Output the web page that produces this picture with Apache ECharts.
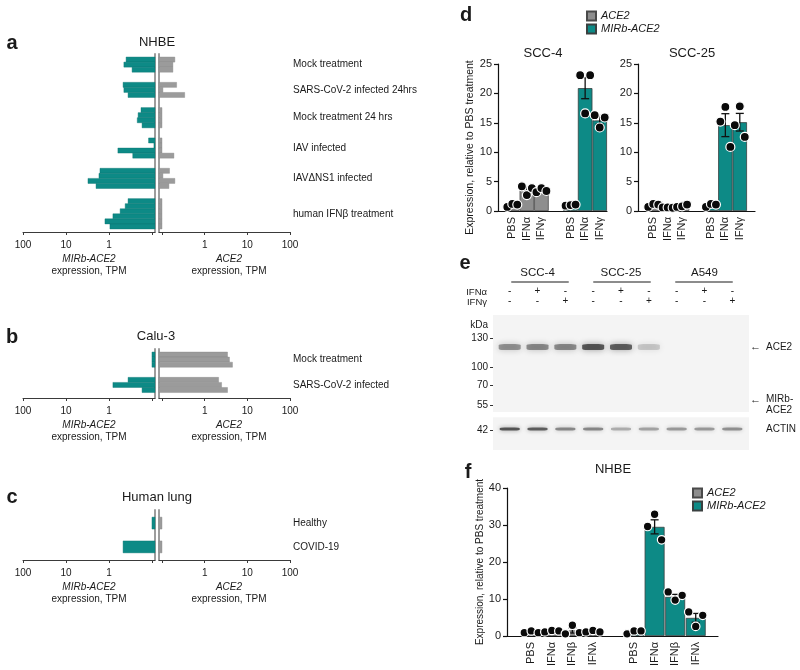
<!DOCTYPE html>
<html><head><meta charset="utf-8">
<script src="https://cdn.jsdelivr.net/npm/echarts@6/dist/echarts.min.js"></script>
<style>html,body{margin:0;padding:0;background:#fff}#c{width:800px;height:670px}</style>
</head><body><div id="c"></div>
<script>
// ---------------- DATA ----------------
// Panel a: NHBE, TPM per replicate (left: MIRb-ACE2, right: ACE2)
const nhbeLabels = ['Mock treatment','SARS-CoV-2 infected 24hrs','Mock treatment 24 hrs','IAV infected','IAVΔNS1 infected','human IFNβ treatment'];
const nhbeMirb = [[0.40,0.45,0.29],[0.47,0.45,0.36],[0.18,0.21,0.22,0.17],[0.12,0.09,0.62,0.28],[1.62,1.71,3.08,2.0],[0.36,0.42,0.55,0.81,1.24,0.95]];
const nhbeAce2 = [[0.20,0.18,0.18],[0.22,0.105,0.34],[0.1,0.1,0.1,0.1],[0.1,0.1,0.1,0.19],[0.15,0.105,0.20,0.145],[0.1,0.1,0.1,0.1,0.1,0.1]];
// Panel b: Calu-3
const caluLabels = ['Mock treatment','SARS-CoV-2 infected'];
const caluMirb = [[0.1,0.1,0.1],[0.36,0.81,0.17]];
const caluAce2 = [[3.43,3.81,4.48],[2.12,2.49,3.43]];
// Panel c: Human lung
const lungLabels = ['Healthy','COVID-19'];
const lungMirb = [[0.1],[0.47]];
const lungAce2 = [[0.1],[0.1]];
// Panel d
const dTreatments = ['PBS','IFNα','IFNγ'];
const scc4Ace2Mean = [1.0,3.6,3.4];
const scc4Ace2Sem  = [0.15,0.45,0.2];
const scc4Ace2Reps = [[0.7,1.2,1.1],[4.2,2.7,3.9],[3.2,3.9,3.4]];
const scc4MirbMean = [1.0,20.9,15.4];
const scc4MirbSem  = [0.06,1.8,0.6];
const scc4MirbReps = [[0.9,1.0,1.1],[23.1,16.6,23.1],[16.3,14.2,15.9]];
const scc25Ace2Mean = [0.95,0.6,0.85];
const scc25Ace2Sem  = [0.12,0.03,0.12];
const scc25Ace2Reps = [[0.7,1.2,1.1],[0.6,0.6,0.55],[0.7,0.8,1.1]];
const scc25MirbMean = [1.0,14.6,15.1];
const scc25MirbSem  = [0.15,1.95,1.5];
const scc25MirbReps = [[0.7,1.2,1.1],[15.2,17.7,10.9],[14.6,17.8,12.6]];
// Panel e: western blot
const cellLines = ['SCC-4','SCC-25','A549'];
const ifnAlpha = ['-','+','-','-','+','-','-','+','-'];
const ifnGamma = ['-','-','+','-','-','+','-','-','+'];
const markerKDa = [130,100,70,55,42];
const markerMigration = [0,1.0,1.62,2.31,3.18];
const ace2Migration = 0.31;
const ace2Intensity = [0.5,0.55,0.55,0.85,0.8,0.22,0,0,0];
const actinMigration = 3.14;
const actinIntensity = [0.85,0.8,0.55,0.55,0.35,0.4,0.45,0.45,0.5];
const membranes = [[-0.79,2.55],[2.73,3.86]];
// Panel f: NHBE
const fTreatments = ['PBS','IFNα','IFNβ','IFNλ'];
const nhbeFAce2Mean = [1.05,1.3,1.5,1.2];
const nhbeFAce2Sem  = [0.15,0.12,0.7,0.13];
const nhbeFAce2Reps = [[0.9,1.36,0.9],[1.1,1.5,1.36],[0.6,2.9,0.9],[1.1,1.5,1.1]];
const nhbeFMirbMean = [1.1,29.5,10.6,4.9];
const nhbeFMirbSem  = [0.25,1.9,0.65,1.2];
const nhbeFMirbReps = [[0.6,1.36,1.36],[29.6,32.9,26.0],[11.9,9.7,11.0],[6.5,2.6,5.6]];

// ---------------- STYLE ----------------
const FONT = '"Liberation Sans", Arial, Helvetica, sans-serif';
const INK = '#1a1a1a';
const TEAL = '#0d8a86';
const GRAY_A = '#9b9b9b';
const GRAY = '#8e8e8e';
const BASE = 0.085;

const option = {animation:false, backgroundColor:'#fff', textStyle:{fontFamily:FONT},
  grid:[], xAxis:[], yAxis:[], series:[], legend:[], graphic:[]};
function addGrid(g){ option.grid.push(Object.assign({outerBoundsMode:'none', containLabel:false}, g)); return option.grid.length-1; }
function addX(a){ option.xAxis.push(a); return option.xAxis.length-1; }
function addY(a){ option.yAxis.push(a); return option.yAxis.length-1; }

// ---------- mirrored horizontal bar panels (a, b, c) ----------
function buildRows(groups, gap){
  let r = 0; const rows = [], centers = [];
  groups.forEach(reps => { centers.push(r + reps.length/2); reps.forEach(v => { rows.push([r, v]); r++; }); r += gap; });
  return {rows, centers};
}
function logAxis(gi, inverse, name, padLeft){
  return {gridIndex:gi, type:'log', logBase:10, inverse, min:BASE, max:100,
    axisLine:{show:true, onZero:false, lineStyle:{color:'#3a3a3a', width:1}},
    axisTick:{show:true, customValues:[0.1,1,10,100], length:3, lineStyle:{color:'#3a3a3a'}},
    axisLabel:{customValues:[1,10,100], formatter:v => String(Math.round(v)), color:INK, fontSize:10, margin:8},
    splitLine:{show:false}, minorTick:{show:false},
    name, nameLocation:'middle', nameGap:21,
    nameTextStyle:{color:INK, padding:[0,0,0,padLeft], rich:{
      i:{fontStyle:'italic', fontSize:10, lineHeight:12, color:INK},
      n:{fontSize:10, lineHeight:12, color:INK}}}};
}
function rowAxis(gi, pos, cfg){
  return {gridIndex:gi, type:'value', inverse:true, min:cfg.yMin, max:cfg.yMax, position:pos,
    axisLine:{show:true, onZero:false, lineStyle:{color:'#9d9d9d', width:2}},
    axisTick:{show:false}, axisLabel:{show:false}, splitLine:{show:false}};
}
function hbarSeries(xi, yi, rows, fill, stroke){
  return {type:'custom', xAxisIndex:xi, yAxisIndex:yi, data:rows, encode:{x:1, y:0}, silent:true, z:2,
    renderItem:(params, api) => {
      const row = api.value(0), v = api.value(1);
      const a = api.coord([BASE, row]), b = api.coord([v, row + 1]);
      return {type:'rect', shape:{x:Math.min(a[0],b[0]), y:Math.min(a[1],b[1]), width:Math.abs(b[0]-a[0]), height:Math.abs(b[1]-a[1])},
        style:{fill, stroke, lineWidth:0.4}};
    }};
}
function mirrorPanel(cfg){
  const L = buildRows(cfg.mirb, cfg.gap), R = buildRows(cfg.ace2, cfg.gap);
  const gl = addGrid({left:23, width:132, top:cfg.top, height:cfg.height});
  const gr = addGrid({left:159, width:131, top:cfg.top, height:cfg.height});
  const xl = addX(logAxis(gl, true, '{i|MIRb-ACE2}\n{n|expression, TPM}', 0));
  const xr = addX(logAxis(gr, false, '{i|ACE2}\n{n|expression, TPM}', 9));
  const yl = addY(rowAxis(gl, 'right', cfg));
  const yr = addY(rowAxis(gr, 'left', cfg));
  addY({gridIndex:gr, type:'value', inverse:true, min:cfg.yMin, max:cfg.yMax, position:'right',
    axisLine:{show:false, onZero:false}, axisTick:{show:false}, splitLine:{show:false},
    axisLabel:{customValues:L.centers, color:INK, fontSize:10, margin:3, align:'left',
      formatter:v => cfg.labels[L.centers.findIndex(c => Math.abs(c - v) < 1e-6)] || ''}});
  option.series.push(hbarSeries(xl, yl, L.rows, TEAL, '#0a7471'));
  option.series.push(hbarSeries(xr, yr, R.rows, GRAY_A, '#888'));
}
mirrorPanel({top:54, height:178, yMin:-0.6, yMax:34.6, gap:2, mirb:nhbeMirb, ace2:nhbeAce2, labels:nhbeLabels});
mirrorPanel({top:349, height:49, yMin:-0.6, yMax:9.08, gap:2, mirb:caluMirb, ace2:caluAce2, labels:caluLabels});
mirrorPanel({top:510, height:50, yMin:-0.6, yMax:3.6, gap:1, mirb:lungMirb, ace2:lungAce2, labels:lungLabels});

// ---------- vertical bar panels (d, f) ----------
function barPanel(cfg){
  const n = cfg.cats.length;
  const slots = cfg.cats.concat(['']).concat(cfg.cats);
  const g = addGrid({left:cfg.gridLeft, width:cfg.gridWidth, top:cfg.top, height:cfg.height});
  const x = addX({gridIndex:g, type:'category', data:slots, axisLine:{show:false, onZero:false}, axisTick:{show:false},
    axisLabel:{rotate:90, fontSize:11, color:INK, margin:6, interval:0}, splitLine:{show:false}});
  const yAx = {gridIndex:g, type:'value', min:0, max:cfg.yMax, interval:cfg.interval, offset:cfg.gridLeft - cfg.axisX,
    axisLine:{show:true, onZero:false, lineStyle:{color:'#111', width:1.2}},
    axisTick:{show:true, length:4, lineStyle:{color:'#111', width:1.2}},
    axisLabel:{fontSize:11, color:INK, margin:6}, splitLine:{show:false}};
  if (cfg.yName){ Object.assign(yAx, {name:cfg.yName, nameLocation:'middle', nameRotate:90, nameGap:cfg.nameGap,
    nameTextStyle:{fontSize:cfg.nameSize, color:INK, padding:cfg.namePad}}); }
  const y = addY(yAx);
  // baseline spanning from the y axis to the panel's right end
  const hg = addGrid({left:cfg.axisX, width:cfg.lineRight - cfg.axisX, top:cfg.top, height:cfg.height});
  addX({gridIndex:hg, type:'value', axisLine:{show:true, onZero:false, lineStyle:{color:'#111', width:1.2}},
    axisTick:{show:false}, axisLabel:{show:false}, splitLine:{show:false}});
  addY({gridIndex:hg, type:'value', show:false});

  const pad = Array(n + 1).fill('-');
  option.series.push({type:'bar', name:'ACE2', xAxisIndex:x, yAxisIndex:y, data:cfg.ace2Mean.concat(pad),
    barWidth:cfg.barWidth, barGap:'-100%', z:2, silent:true,
    itemStyle:{color:GRAY, borderColor:'#4a4a4a', borderWidth:0.8}});
  option.series.push({type:'bar', name:'MIRb-ACE2', xAxisIndex:x, yAxisIndex:y, data:pad.concat(cfg.mirbMean),
    barWidth:cfg.barWidth, barGap:'-100%', z:2, silent:true,
    itemStyle:{color:TEAL, borderColor:'#3a4040', borderWidth:0.8}});
  const err = [];
  cfg.ace2Mean.forEach((m, i) => err.push([i, m, cfg.ace2Sem[i]]));
  cfg.mirbMean.forEach((m, i) => err.push([i + n + 1, m, cfg.mirbSem[i]]));
  option.series.push({type:'custom', xAxisIndex:x, yAxisIndex:y, data:err, encode:{x:0, y:1}, z:3, silent:true,
    renderItem:(params, api) => {
      const i = api.value(0), m = api.value(1), s = api.value(2);
      const hi = api.coord([i, m + s]), lo = api.coord([i, Math.max(0, m - s)]), w = 4;
      const st = {stroke:'#111', lineWidth:1.3};
      return {type:'group', children:[
        {type:'line', shape:{x1:hi[0], y1:hi[1], x2:lo[0], y2:lo[1]}, style:st},
        {type:'line', shape:{x1:hi[0]-w, y1:hi[1], x2:hi[0]+w, y2:hi[1]}, style:st},
        {type:'line', shape:{x1:lo[0]-w, y1:lo[1], x2:lo[0]+w, y2:lo[1]}, style:st}]};
    }});
  const dots = [];
  cfg.ace2Reps.forEach((reps, i) => reps.forEach((v, k) => dots.push({value:[i, v], symbolOffset:[cfg.dotOffsets[k], 0]})));
  cfg.mirbReps.forEach((reps, i) => reps.forEach((v, k) => dots.push({value:[i + n + 1, v], symbolOffset:[cfg.dotOffsets[k], 0]})));
  option.series.push({type:'scatter', xAxisIndex:x, yAxisIndex:y, data:dots, symbolSize:cfg.dotSize, z:4, silent:true,
    itemStyle:{color:'#0a0a0a', borderColor:'#fff', borderWidth:1.2, opacity:1}});
}
const YNAME = 'Expression, relative to PBS treatment';
barPanel({cats:dTreatments, gridLeft:505, gridWidth:102, axisX:498, lineRight:607, top:64, height:147, yMax:25, interval:5,
  ace2Mean:scc4Ace2Mean, ace2Sem:scc4Ace2Sem, ace2Reps:scc4Ace2Reps, mirbMean:scc4MirbMean, mirbSem:scc4MirbSem, mirbReps:scc4MirbReps,
  yName:YNAME, nameGap:18, nameSize:10.5, namePad:[0,20,0,0], barWidth:'100%', dotOffsets:[-5,0,5], dotSize:9});
barPanel({cats:dTreatments, gridLeft:646, gridWidth:101, axisX:638, lineRight:755, top:64, height:147, yMax:25, interval:5,
  ace2Mean:scc25Ace2Mean, ace2Sem:scc25Ace2Sem, ace2Reps:scc25Ace2Reps, mirbMean:scc25MirbMean, mirbSem:scc25MirbSem, mirbReps:scc25MirbReps,
  barWidth:'100%', dotOffsets:[-5,0,5], dotSize:9});
barPanel({cats:fTreatments, gridLeft:521, gridWidth:185, axisX:507, lineRight:718, top:488, height:148, yMax:40, interval:10,
  ace2Mean:nhbeFAce2Mean, ace2Sem:nhbeFAce2Sem, ace2Reps:nhbeFAce2Reps, mirbMean:nhbeFMirbMean, mirbSem:nhbeFMirbSem, mirbReps:nhbeFMirbReps,
  yName:YNAME, nameGap:18, nameSize:10, namePad:[0,0,0,0], barWidth:'97%', dotOffsets:[-7,0,7], dotSize:8.5});

const legendBase = {orient:'vertical', itemWidth:9, itemHeight:9, itemGap:1, icon:'rect', selectedMode:false,
  data:['ACE2','MIRb-ACE2'], textStyle:{fontStyle:'italic', fontSize:11, color:INK, lineHeight:12}};
option.legend.push(Object.assign({left:581, top:5}, legendBase));
option.legend.push(Object.assign({left:687, top:482}, legendBase));

// ---------- panel e: western blot ----------
const lanes = ifnAlpha.map((_, i) => i);
const ge = addGrid({left:493, width:256, top:315, height:135});
const laneAxis = {gridIndex:ge, type:'value', min:-0.6, max:8.6, splitLine:{show:false}};
const xeB = addX(Object.assign({}, laneAxis, {position:'bottom', show:false}));
addX(Object.assign({}, laneAxis, {position:'top', offset:8, axisLine:{show:false, onZero:false}, axisTick:{show:false},
  axisLabel:{customValues:lanes, formatter:v => ifnAlpha[Math.round(v)] + '\n' + ifnGamma[Math.round(v)], fontSize:10, lineHeight:10, color:INK, margin:1},
  name:'IFNα\nIFNγ', nameLocation:'start', nameGap:6,
  nameTextStyle:{fontSize:9.5, lineHeight:10, color:INK, verticalAlign:'bottom', align:'right'}}));
addX(Object.assign({}, laneAxis, {position:'top', offset:33,
  axisLine:{show:true, onZero:false, lineStyle:{color:'#8c8c8c', width:2, type:[56,26], dashOffset:63}}, axisTick:{show:false},
  axisLabel:{customValues:cellLines.map((_, g) => g*3 + 1), formatter:v => cellLines[Math.round((v-1)/3)], fontSize:11.5, color:INK, margin:3}}));
const KDA_POS = -0.45;
const yeL = addY({gridIndex:ge, type:'value', inverse:true, min:-0.79, max:3.86, position:'left',
  axisLine:{show:false, onZero:false}, splitLine:{show:false},
  axisTick:{show:true, customValues:markerMigration, length:3, lineStyle:{color:'#333'}},
  axisLabel:{customValues:[KDA_POS].concat(markerMigration), fontSize:10, color:INK, margin:5,
    formatter:v => { if (Math.abs(v - KDA_POS) < 1e-6) return 'kDa'; const i = markerMigration.findIndex(m => Math.abs(m - v) < 1e-6); return i >= 0 ? String(markerKDa[i]) : ''; }}});
const bandNames = [[ace2Migration, '{arr|←}{t|ACE2}'], [markerMigration[3], '{arr|←}{t|MIRb-}\n{arr| }{t|ACE2}'], [actinMigration, '{arr| }{t|ACTIN}']];
addY({gridIndex:ge, type:'value', inverse:true, min:-0.79, max:3.86, position:'right',
  axisLine:{show:false, onZero:false}, axisTick:{show:false}, splitLine:{show:false},
  axisLabel:{customValues:bandNames.map(b => b[0]), margin:1, align:'left', color:INK,
    formatter:v => { const b = bandNames.find(b => Math.abs(b[0] - v) < 1e-6); return b ? b[1] : ''; },
    rich:{arr:{fontSize:11, width:16, color:INK}, t:{fontSize:10, lineHeight:11, color:INK}}}});
option.series.push({type:'custom', xAxisIndex:xeB, yAxisIndex:yeL, data:membranes, encode:{x:[], y:[0,1]}, z:1, silent:true,
  renderItem:(params, api) => {
    const a = api.coord([-0.6, api.value(0)]), b = api.coord([8.6, api.value(1)]);
    return {type:'rect', shape:{x:a[0], y:a[1], width:b[0]-a[0], height:b[1]-a[1]}, style:{fill:'#f4f4f4'}};
  }});
function bandSeries(mig, intens, size, blur){
  return {type:'scatter', xAxisIndex:xeB, yAxisIndex:yeL, symbol:'roundRect', symbolSize:size, z:3, silent:true,
    data:intens.map((a, i) => [i, mig, a]).filter(d => d[2] > 0),
    itemStyle:{color:p => 'rgba(28,28,28,' + p.value[2] + ')', shadowBlur:blur, shadowColor:'rgba(28,28,28,0.6)'}};
}
option.series.push(bandSeries(ace2Migration, ace2Intensity, [22,6], 6));
option.series.push(bandSeries(actinMigration, actinIntensity, [20,3], 4));

// ---------- panel letters and titles ----------
const texts = [
  ['a', 12, 43, 'bold 20px'], ['b', 12, 337, 'bold 20px'], ['c', 12, 497, 'bold 20px'],
  ['d', 466, 15, 'bold 20px'], ['e', 465, 263, 'bold 20px'], ['f', 468, 472, 'bold 20px'],
  ['NHBE', 157, 42, '13px'], ['Calu-3', 156, 336, '13px'], ['Human lung', 157, 497, '13px'],
  ['SCC-4', 543, 53, '13px'], ['SCC-25', 692, 53, '13px'], ['NHBE', 613, 469, '13px']
];
texts.forEach(t => option.graphic.push({type:'text', x:t[1], y:t[2], silent:true,
  style:{text:t[0], font:t[3] + ' ' + FONT, fill:INK, align:'center', verticalAlign:'middle', textAlign:'center', textVerticalAlign:'middle'}}));

const chart = echarts.init(document.getElementById('c'), null, {renderer:'canvas', width:800, height:670, devicePixelRatio:1});
chart.setOption(option);
</script></body></html>
